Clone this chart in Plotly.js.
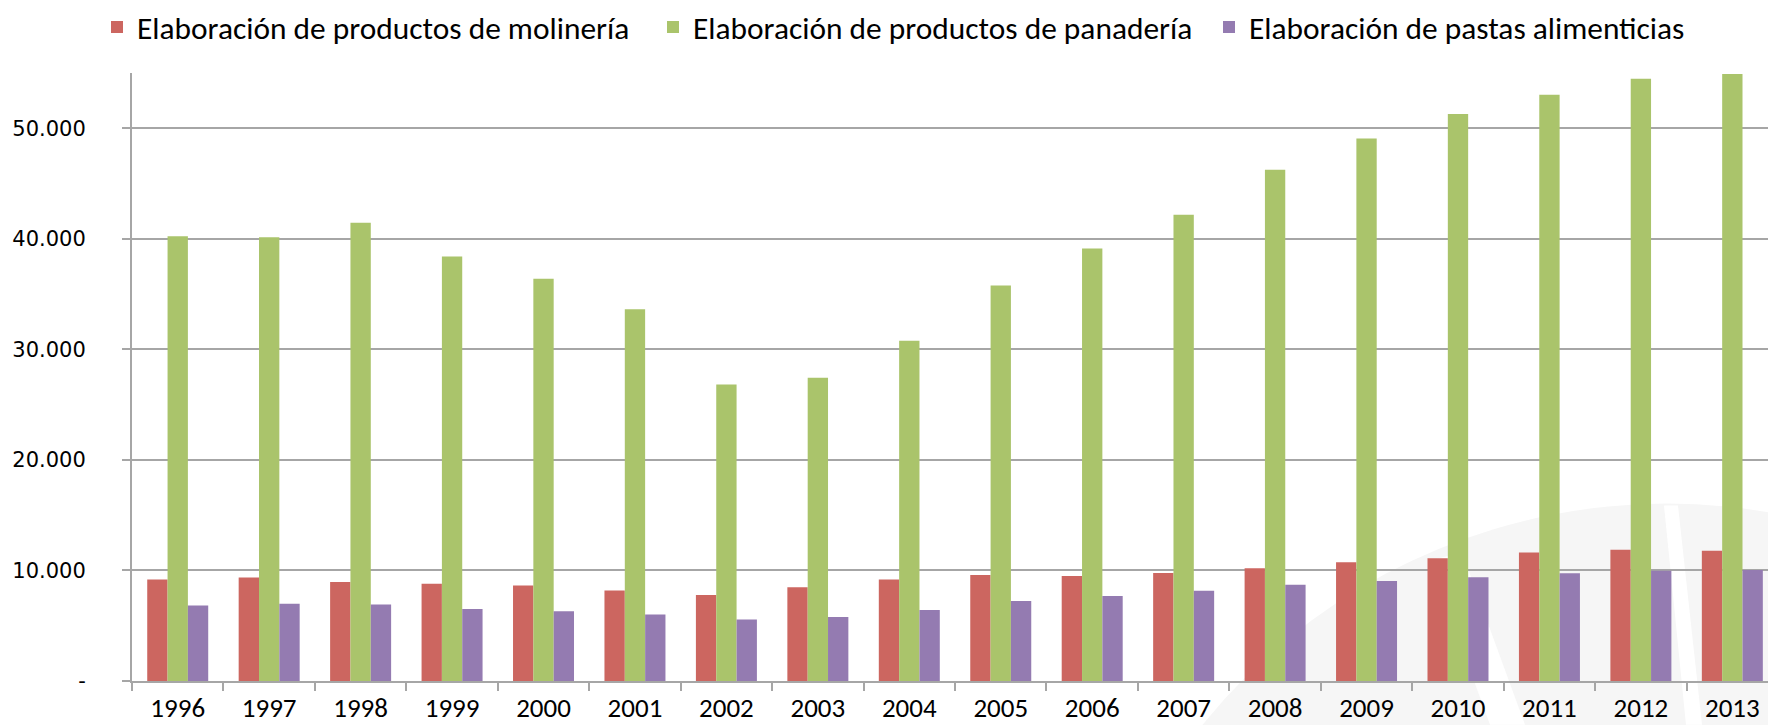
<!DOCTYPE html>
<html>
<head>
<meta charset="utf-8">
<script src="https://cdn.plot.ly/plotly-3.0.1.min.js"></script>
<style>
  html, body { margin: 0; padding: 0; background: #ffffff; }
  #chart { width: 1768px; height: 725px; }
</style>
</head>
<body>
<div id="chart"></div>
<script>
// ---- data ----
const years = ['1996','1997','1998','1999','2000','2001','2002','2003','2004','2005','2006','2007','2008','2009','2010','2011','2012','2013'];
const molineria = [9190, 9370, 8950, 8800, 8650, 8190, 7770, 8490, 9190, 9580, 9490, 9760, 10210, 10750, 11100, 11620, 11870, 11790];
const panaderia = [40240, 40150, 41460, 38410, 36380, 33640, 26830, 27440, 30790, 35770, 39130, 42170, 46240, 49080, 51300, 53040, 54480, 54900];
const pastas = [6840, 6990, 6930, 6510, 6300, 6020, 5570, 5780, 6420, 7230, 7680, 8160, 8710, 9040, 9390, 9740, 9970, 10050];
const seriesNames = ['Elaboración de productos de molinería', 'Elaboración de productos de panadería', 'Elaboración de pastas alimenticias'];
const yTickVals = [0, 10000, 20000, 30000, 40000, 50000];
const yTickText = ['-', '10.000', '20.000', '30.000', '40.000', '50.000'];

const colors = ['#cc6660', '#aac46b', '#947bb1'];
const narrow = 'Carlito, "Liberation Sans Narrow", Roboto, sans-serif';

const traces = [molineria, panaderia, pastas].map((vals, i) => ({
  type: 'bar',
  x: years,
  y: vals,
  name: seriesNames[i],
  marker: { color: colors[i] },
  hoverinfo: 'x+y+name'
}));

// plot area in pixels: l=132, r=0, t=71, b=44  -> width 1636, height 610
const PW = 1636, PH = 610, L = 132, B0 = 681;
const px = v => (v - L) / PW;
const py = v => (B0 - v) / PH;

const layout = {
  width: 1768,
  height: 725,
  margin: { l: 132, r: 0, t: 71, b: 44, pad: 0 },
  paper_bgcolor: 'rgba(0,0,0,0)',
  plot_bgcolor: 'rgba(0,0,0,0)',
  barmode: 'group',
  bargap: 0.333,
  bargroupgap: 0,
  showlegend: true,
  legend: {
    orientation: 'h',
    x: px(97),
    xanchor: 'left',
    y: py(25),
    yanchor: 'middle',
    font: { family: narrow, size: 31.4, color: '#000000' },
    entrywidth: 511,
    entrywidthmode: 'pixels',
    itemclick: false,
    itemdoubleclick: false,
    traceorder: 'normal'
  },
  xaxis: {
    type: 'category',
    range: [-0.5, 17.39],
    showgrid: false,
    showline: true,
    linecolor: '#a6a6a6',
    linewidth: 2,
    ticks: 'outside',
    tickson: 'boundaries',
    ticklen: 8,
    tickwidth: 2,
    tickcolor: '#a6a6a6',
    ticklabelstandoff: 2,
    tickfont: { family: narrow, size: 27, color: '#000000' },
    fixedrange: true
  },
  yaxis: {
    range: [0, 55000],
    tickvals: yTickVals,
    ticktext: yTickText,
    showgrid: true,
    gridcolor: '#a6a6a6',
    gridwidth: 2,
    zeroline: false,
    showline: true,
    linecolor: '#a6a6a6',
    linewidth: 2,
    ticks: 'outside',
    ticklen: 8,
    tickwidth: 2,
    tickcolor: '#a6a6a6',
    ticklabelstandoff: 32,
    tickfont: { family: '"DejaVu Sans", Verdana, sans-serif', size: 21, color: '#000000' },
    fixedrange: true
  },
  shapes: [
    {
      type: 'circle', xref: 'paper', yref: 'paper', layer: 'below',
      x0: px(1070), x1: px(2264), y0: py(1697), y1: py(503),
      fillcolor: '#f6f6f6', line: { width: 0 }
    },
    {
      type: 'path', xref: 'paper', yref: 'paper', layer: 'below',
      path: 'M ' + px(1430) + ' ' + py(560) + ' L ' + px(1462) + ' ' + py(552) +
            ' L ' + px(1525) + ' ' + py(725) + ' L ' + px(1490) + ' ' + py(725) + ' Z',
      fillcolor: '#ffffff', line: { width: 0 }
    },
    {
      type: 'path', xref: 'paper', yref: 'paper', layer: 'below',
      path: 'M ' + px(1664) + ' ' + py(505) + ' L ' + px(1678) + ' ' + py(505) +
            ' L ' + px(1702) + ' ' + py(725) + ' L ' + px(1686) + ' ' + py(725) + ' Z',
      fillcolor: '#ffffff', line: { width: 0 }
    }
  ]
};

Plotly.newPlot('chart', traces, layout, { displayModeBar: false, staticPlot: true });
</script>
</body>
</html>
